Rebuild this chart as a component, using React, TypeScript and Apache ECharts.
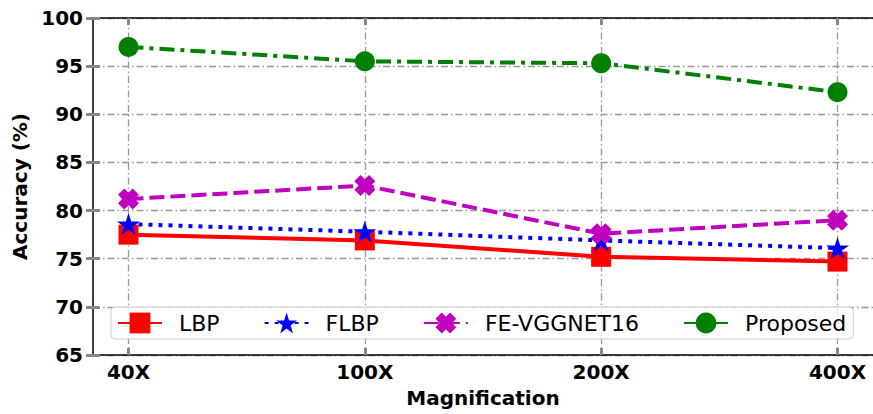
import React, { useEffect, useRef } from "react";
import * as echarts from "echarts";

const categories = ["40X", "100X", "200X", "400X"];
const lbp = [77.5, 76.9, 75.2, 74.7];
const flbp = [78.6, 77.8, 76.9, 76.1];
const feVgg = [81.2, 82.6, 77.6, 79.0];
const proposed = [97.0, 95.5, 95.3, 92.3];
const seriesNames = ["LBP", "FLBP", "FE-VGGNET16", "Proposed"];
const yTicks = { min: 65, max: 100, interval: 5 };

const STAR =
  "path://M50 0 L61.23 34.55 L97.55 34.55 L68.17 55.9 L79.39 90.45 L50 69.1 L20.61 90.45 L31.83 55.9 L2.45 34.55 L38.77 34.55 Z";
const XMARK =
  "path://M30 0 L50 20 L70 0 L100 30 L80 50 L100 70 L70 100 L50 80 L30 100 L0 70 L20 50 L0 30 Z";

const FONT = "DejaVu Sans";
const GRID_DASH = [7, 3, 1.5, 3];
const TICK_COLOR = "#888888";

export default function App() {
  const ref = useRef<HTMLDivElement>(null);
  useEffect(() => {
    if (!ref.current) return;
    const chart = echarts.init(ref.current, undefined, { renderer: "svg" });
    const tick = { show: true, inside: true, length: 7, lineStyle: { color: TICK_COLOR, width: 3 } };
    const option: any = {
      animation: false,
      grid: [
        { left: 93, right: 0, top: 18, bottom: 59 },
        { left: 128.5, right: 35.5, top: 18, bottom: 59 },
      ],
      xAxis: [
        {
          gridIndex: 0, type: "value", min: 0, max: 1, position: "bottom",
          axisLine: { show: true, lineStyle: { color: "#000", width: 1.5 } },
          axisTick: { show: false }, axisLabel: { show: false }, splitLine: { show: false },
        },
        {
          gridIndex: 0, type: "value", min: 0, max: 1, position: "top",
          axisLine: { show: true, lineStyle: { color: "#000", width: 1.5 } },
          axisTick: { show: false }, axisLabel: { show: false }, splitLine: { show: false },
        },
        {
          gridIndex: 1, type: "category", data: categories, boundaryGap: false, position: "bottom",
          axisLine: { show: false },
          axisTick: tick,
          axisLabel: { color: "#000", fontFamily: FONT, fontWeight: "bold", fontSize: 20, margin: 7 },
          splitLine: { show: true, lineStyle: { color: "#999", width: 1.3, type: GRID_DASH } },
          name: "Magnification", nameLocation: "middle", nameGap: 33,
          nameTextStyle: { color: "#000", fontFamily: FONT, fontWeight: "bold", fontSize: 20 },
        },
        {
          gridIndex: 1, type: "category", data: categories, boundaryGap: false, position: "top",
          axisLine: { show: false }, axisTick: tick, axisLabel: { show: false }, splitLine: { show: false },
        },
      ],
      yAxis: [
        {
          gridIndex: 0, type: "value", min: yTicks.min, max: yTicks.max, interval: yTicks.interval, position: "left",
          axisLine: { show: true, lineStyle: { color: "#000", width: 1.5 } },
          axisTick: tick,
          axisLabel: { color: "#000", fontFamily: FONT, fontWeight: "bold", fontSize: 20, margin: 10 },
          splitLine: { show: true, lineStyle: { color: "#999", width: 1.3, type: GRID_DASH } },
          name: "Accuracy (%)", nameLocation: "middle", nameGap: 61,
          nameTextStyle: { color: "#000", fontFamily: FONT, fontWeight: "bold", fontSize: 20 },
        },
        {
          gridIndex: 0, type: "value", min: yTicks.min, max: yTicks.max, interval: yTicks.interval, position: "right",
          axisLine: { show: false }, axisTick: tick, axisLabel: { show: false }, splitLine: { show: false },
        },
        {
          gridIndex: 1, type: "value", min: yTicks.min, max: yTicks.max, interval: yTicks.interval,
          show: false,
        },
      ],
      legend: {
        left: 111, top: 307,
        padding: [5, 7, 5, 6],
        itemGap: 44, itemWidth: 44, itemHeight: 26,
        backgroundColor: "rgba(255,255,255,0.85)",
        borderColor: "#cccccc", borderWidth: 1, borderRadius: 4,
        textStyle: { color: "#000", fontFamily: FONT, fontSize: 22, padding: [0, 0, 0, 12] },
        data: seriesNames,
      },
      series: [
        {
          name: seriesNames[0], type: "line", xAxisIndex: 2, yAxisIndex: 2, data: lbp,
          symbol: "rect", symbolSize: 20,
          lineStyle: { color: "#ff0000", width: 4, type: "solid" },
          itemStyle: { color: "#ff0000" },
        },
        {
          name: seriesNames[1], type: "line", xAxisIndex: 2, yAxisIndex: 2, data: flbp,
          symbol: STAR, symbolSize: 23, symbolKeepAspect: true,
          lineStyle: { color: "#0000ff", width: 4, type: [4, 6] },
          itemStyle: { color: "#0000ff" },
        },
        {
          name: seriesNames[2], type: "line", xAxisIndex: 2, yAxisIndex: 2, data: feVgg,
          symbol: XMARK, symbolSize: 21,
          lineStyle: { color: "#bf00bf", width: 4, type: [15, 6] },
          itemStyle: { color: "#bf00bf" },
        },
        {
          name: seriesNames[3], type: "line", xAxisIndex: 2, yAxisIndex: 2, data: proposed,
          symbol: "circle", symbolSize: 20,
          lineStyle: { color: "#008000", width: 4, type: [15, 6, 4, 6] },
          itemStyle: { color: "#008000" },
        },
      ],
    };
    chart.setOption(option);
    return () => chart.dispose();
  }, []);
  return <div ref={ref} style={{ width: 873, height: 414, position: "absolute", left: 0, top: 0 }} />;
}
